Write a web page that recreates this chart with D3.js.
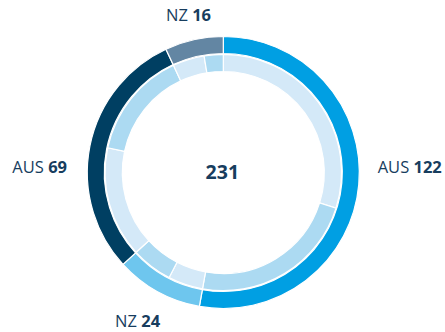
<!DOCTYPE html>
<html>
<head>
<meta charset="utf-8">
<script src="https://cdn.jsdelivr.net/npm/d3@7"></script>
<style>
  html, body { margin: 0; padding: 0; background: #ffffff; }
  svg { display: block; }
  text { font-family: "Open Sans", "Noto Sans", sans-serif; fill: #173d5e; }
</style>
</head>
<body>
<svg id="chart" width="445" height="332"></svg>
<script>
// Outer ring: one segment per group
const groups = ["AUS", "NZ", "AUS", "NZ"];
const groupTotals = [122, 24, 69, 16];
// Inner ring: each group split in two parts
const partA = [69, 11, 35, 10];
const partB = [53, 13, 34, 6];

const outerColors = ["#009fe3", "#6ec6ee", "#003f62", "#6386a3"];
const innerColors = ["#d4e9f8", "#acdaf2"];

const width = 445, height = 332;
const cx = 223.3, cy = 172.5;
const outerR = 136, ringSplit = 119, innerR = 101;

const svg = d3.select("#chart");
const g = svg.append("g").attr("transform", `translate(${cx},${cy})`);

const pie = d3.pie().sort(null).value(d => d.value);

const outerData = groupTotals.map((v, i) => ({ value: v, group: groups[i], i }));
const outerArcs = pie(outerData);

const innerData = [];
groupTotals.forEach((_, i) => {
  innerData.push({ value: partA[i], part: 0 });
  innerData.push({ value: partB[i], part: 1 });
});
const innerArcs = pie(innerData);

const outerArc = d3.arc().innerRadius(ringSplit).outerRadius(outerR);
const innerArc = d3.arc().innerRadius(innerR).outerRadius(ringSplit - 0.8);

g.selectAll("path.inner")
  .data(innerArcs)
  .join("path")
  .attr("class", "inner")
  .attr("d", innerArc)
  .attr("fill", d => innerColors[d.data.part])
  .attr("stroke", "#ffffff")
  .attr("stroke-width", 1.2);

g.selectAll("path.outer")
  .data(outerArcs)
  .join("path")
  .attr("class", "outer")
  .attr("d", outerArc)
  .attr("fill", d => outerColors[d.data.i])
  .attr("stroke", "#ffffff")
  .attr("stroke-width", 1.2);

// Group labels, placed around the ring at each segment's mid-angle
const labelR = 155;
const labelNudge = [[0, 0.8], [-11, 18.5], [-4.3, 0.8], [-1.3, 0]];
outerArcs.forEach((a, i) => {
  const mid = (a.startAngle + a.endAngle) / 2;
  const s = Math.sin(mid), c = -Math.cos(mid);
  let anchor = "middle";
  if (s > 0.7) anchor = "start";
  else if (s < -0.7) anchor = "end";
  const x = labelR * s + labelNudge[i][0];
  const y = anchor === "middle" ? labelR * c + labelNudge[i][1] : labelNudge[i][1];
  const t = g.append("text")
    .attr("x", x)
    .attr("y", y)
    .attr("text-anchor", anchor)
    .attr("font-size", 16.5);
  t.append("tspan").attr("font-weight", 400).text(a.data.group + " ");
  t.append("tspan").attr("font-weight", 700).text(a.data.value);
});

// Grand total in the centre
g.append("text")
  .attr("x", -1)
  .attr("y", 6.8)
  .attr("text-anchor", "middle")
  .attr("font-size", 19.5)
  .attr("font-weight", 700)
  .text(d3.sum(groupTotals));
</script>
</body>
</html>
